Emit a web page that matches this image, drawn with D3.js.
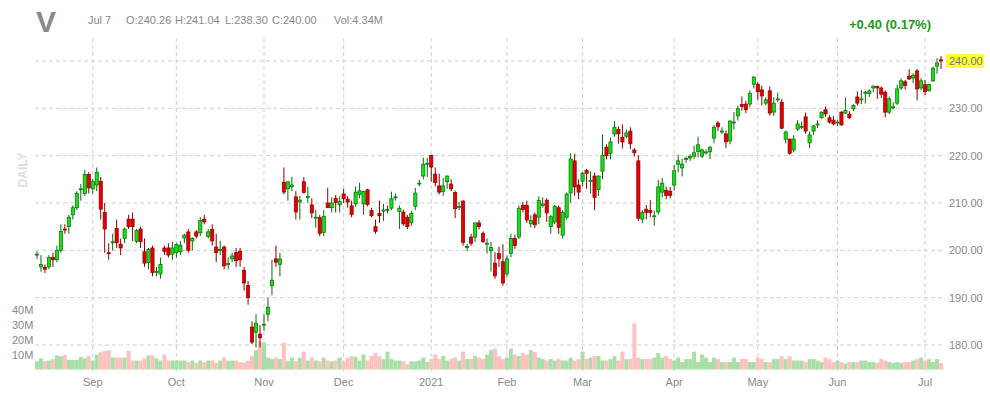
<!DOCTYPE html>
<html>
<head>
<meta charset="utf-8">
<script src="https://cdn.jsdelivr.net/npm/d3@7"></script>
<style>
  body { margin: 0; background: #fff; font-family: Arial, "Liberation Sans", sans-serif; }
</style>
</head>
<body>
<div id="chart"></div>
<script>
// daily candles, [open, high, low, close], Aug 11 2020 .. Jul 7 2021
const candles = [
  // Aug
  [199,199.8,198.2,199.2],[196.5,199,195.5,197],[196.4,197,195.2,196],[196.5,199,196,198.5],[198.5,199.5,196.5,198],
  [198,201,197.5,200],[200,205.5,199.5,204],[204.5,205.5,203.5,204.3],[205,207.5,203.5,207],[207.5,209.5,206.5,209],
  [209,212.5,208.5,212],[213,214,210.5,213],[212,217,211.5,216],[216,216.5,212,213.2],[213,215,212,214.5],
  // Sep
  [213.8,217.5,212.5,216.5],[214.6,215.5,206.5,208.7],[208,210,199.5,204.5],[199.5,201.5,198,199.3],[201.8,203.5,200,201.8],
  [204.6,206.5,200.5,201.6],[201.3,202.5,199,200.5],[202.5,204.8,201.5,204.5],[206.6,207.5,204.5,205],[206.6,208,202,205],
  [201.9,204.5,201.5,204.2],[204.5,205,200.5,201.8],[199.7,202.5,196.5,197.3],[197.4,200.5,196,200.2],[200.5,201,194.5,195.3],
  [195.5,196.5,194.5,195.5],[195,198.5,194,197],[200.5,201,199,199.8],[200.5,201.5,198.5,199],[199.2,201.8,198,200.5],
  [199.5,201.5,198.5,201.2],
  // Oct
  [199.7,202,199,201.1],[202.6,203.5,201.5,203.2],[203.9,204.5,199.5,200],[202,202.8,200,202.5],[203.9,204.3,202.5,203],
  [203.7,207,203,206.3],[206.6,207.5,205.5,206],[202.9,204.5,202.5,203.9],[204.4,205.5,201,202],[200.7,203.5,197.5,199.5],
  [200,202,199,200.2],[200.7,201,196,196.7],[197.2,198.5,196,197.2],[198.2,199.5,197.5,198.8],[199.5,200.5,196.5,197.8],
  [199.8,200.5,196.5,198],[195.8,196.5,191.5,193.1],[192.6,193.5,188.5,190],[183.8,185,180.2,180.6],[182.7,186.5,179.5,184.6],
  [182.3,184.2,179.5,181.5],[184.4,186.5,183,184.4],
  // Nov
  [186.5,190,185,188],[192.5,198,190.5,193.7],[198.2,201,196.5,197.5],[197,199.5,194.5,198.2],[214.4,217.5,211.8,212.3],
  [213,214,210.5,214.5],[213.5,215.5,212.5,213.8],[211.3,212.5,206.5,208.1],[210.2,211.5,206.5,210.6],[214.5,215.5,212,212.2],
  [211.4,213.5,210,211.4],[209.6,211,206.8,207.9],[207,208.6,204.8,207],[206.9,207.5,203,203.6],[203.8,208.5,203,207.2],
  [210,213.2,209,209],[209,211.2,208,210],[211,211.7,208,210.1],[209.6,211.4,208,210.3],[211.9,213,210,210.9],
  // Dec
  [210.8,211.5,209,210.2],[209.4,210.5,207,207.6],[209.8,213.5,209.2,212.3],[211.8,214.3,211,212.6],[209.8,212.6,207.5,212.4],
  [212.8,213,209.3,209.7],[208.4,209,207,207.3],[205,206.5,203.5,204],[207.8,210.5,205.8,207.3],[208.5,209.8,206.2,208.5],
  [208.6,209.5,207.8,208.6],[208.9,212.4,208.5,210.9],[211.3,212,210.5,211.3],[208.2,209.5,204.5,208.9],[208.1,208.6,205.2,205.6],
  [207,207.5,204.5,205],[205.8,208.3,205.2,207.8],[209.3,213.2,208.5,212.1],[214.2,214.9,213.5,214.2],[215.7,219.6,215,218.2],
  [218.4,219.5,215.5,218.4],[220.1,220.1,214.5,217.6],
  // Jan
  [216.1,217.5,213.5,214.3],[213.6,216.2,211.8,212.3],[212.4,215.3,211.5,213.6],[214.5,215.8,213,215.7],[214,215,212.5,213],
  [212.2,212.6,206.8,208.8],[209.3,210.2,208.5,209.3],[210.4,210.6,201,201.7],[200.8,201.4,199.8,200.8],[202.8,203.5,201,201.5],
  [202.8,205.6,201.8,205.8],[205.8,206.4,204.4,205],[203.6,204,201.6,201.8],[201.5,202.5,199.3,201.5],[199.9,201.8,195.5,200.6],
  [197.3,199.6,194,194.6],[199.3,200.8,196.5,198.2],[197.6,201.3,192.5,193.1],[195,198.9,194.4,198.2],
  // Feb
  [199.3,203.5,198.5,202.5],[202.5,203.3,200.3,201],[202.8,209.5,202.4,208.9],[209.5,210.2,208,208.6],[209.5,210.5,205.8,206.4],
  [205.6,207.4,204.8,206.3],[207.5,208,204.7,205.4],[207,211.4,205.5,210.5],[209.5,211.2,209,209.8],[210.6,211,206,207.9],
  [205,207.5,203.5,207.1],[206,209.6,205.5,209.3],[209,209.5,203.5,204.8],[203.2,208.5,202.5,208],[207,212.2,206.5,211.9],
  [212.1,220.5,210,219.3],[218.9,220.4,211.5,213.4],[213.8,215,210.8,212.3],[214.6,216.5,213.5,216.3],
  // Mar
  [216.9,217.2,213,216.3],[214.8,216.7,212,214.8],[215.7,216.4,208.5,211.2],[212.8,215.8,211.5,215.7],[216.7,224.5,215,220.1],
  [221.8,222.4,219.2,220],[220.5,223.8,219.2,222.9],[224.6,227.3,224,226],[225.5,226.2,222.5,224.6],[223.9,226.6,221.5,222.9],
  [224.1,225.5,223.7,224.8],[225.2,226,221.4,222.5],[221.2,221.6,219.8,220.6],[218.9,220.1,206.2,206.8],[206.6,208.5,205.7,208],
  [208.7,209.6,206.5,208],[208.4,210.6,207,208],[207.3,208.4,205.2,207.3],[208.1,214.9,207.5,213.4],[212.3,215.3,211.2,214.2],
  [212.7,213.5,210.8,211.6],[212.5,213.4,211,211.6],[213.8,218,212.6,216.8],
  // Apr
  [218.2,220.2,216.5,218.9],[217.4,219.3,215.6,218.2],[219.4,219.8,218.5,219.4],[219.5,220.3,218.9,219.8],[219.9,222.1,219.3,220.6],
  [220.9,224,219.6,222.3],[219.9,221.5,219.5,221.2],[220.8,221.3,220.2,220.8],[220.8,222,219.3,221.8],[223.7,226.5,222.6,226],
  [226.9,227.3,225.2,226.1],[225.2,226,224.6,225.2],[224.6,225.3,221.6,222.9],[223.1,227.5,222.4,227.3],[227.1,229.2,225.5,227.1],
  [228.4,230.6,227.4,229.9],[230.8,232.5,229.5,230.4],[230.9,231.6,229,229.7],[230.9,233.8,230.2,233.2],[235.1,236.8,234.2,236.6],
  [235.1,235.5,231.7,233.5],
  // May
  [233.9,234.8,230.6,232.6],[231.1,232.3,230.6,231.8],[233.7,234.6,228.5,229],[229.2,232.3,228.4,231.1],[232,233.3,231.3,232],
  [231.3,232,225.6,225.8],[223.5,225.3,222.6,225],[223.5,223.6,220.2,220.5],[221.2,224.3,220.7,223.5],[225.6,227.5,225.2,226.7],
  [226.2,227.2,225.6,226.2],[228.2,229.1,224.6,225.2],[222.7,225.1,221.6,224.4],[225.2,226.5,224.4,226.3],[226.7,227.5,225.8,226.7],
  [228,229.3,227.8,229.2],[229.7,230.4,228.2,228.8],[228,228.6,226.8,227.1],[227.5,228.4,226.4,226.7],[227.1,227.6,226.3,227.1],
  // Jun
  [229.2,229.4,226.3,226.5],[229,232.3,228.8,229.6],[228.8,229.4,227.7,228],[229.9,230.9,229.4,230.6],[232.4,233.6,230.6,231.1],
  [232,233.9,230.9,232],[233.4,233.7,231,233.4],[233.1,234,232.4,233.7],[234.3,234.8,233.4,234.7],[234.6,234.8,232,234.3],
  [234.3,234.6,232.2,233],[233.4,233.8,228.1,229.2],[229.2,232.5,228.8,232],[230.3,231.3,229.8,230.3],[231.1,235,230.7,234.1],
  [234.3,236.3,233.9,235.8],[235.6,236,234,234.8],[236.8,238.3,236,236.2],[236.4,237.4,235.3,237],[237.9,238.3,231.7,234.1],
  [234.3,236.4,233.8,235.8],[235,236,232.8,233.5],
  // Jul
  [233.8,235.1,233.5,235],[235.8,238.8,235.6,238.5],[238.9,240.6,237.3,239.6],[240.26,241.04,238.3,240]
];

// volume, millions
const volumes = [
  5.5,7.5,5.5,6,7,9.5,9,10,6.5,6.5,6.5,8.5,7.5,9,6,
  10,11.5,12.5,13,8,8,8,8,12.5,6,6,6,7.5,9.5,9.5,7.5,6,10,6,6,6,
  6,6,5,6,4.5,6,5,6,6,4.5,6,8,6,6,6,5,4.5,6,9,13,19,18,
  8,7,8,7,18,5.5,8,5.5,8,12,6,8,6,5.5,8,6,5.5,6,8,5.5,
  8,9,8.5,6,10,6,9,11,9,7,12,7,6,6,5.5,3.5,5.5,5.5,6,8,5,7,
  10,7,9,6,7,8,6,12,7,7,9,8,7,10,13,14,9,7,8,
  14,10,9,11,10,13,12,8,7,6,7,6,7,6,6,8,6,7,12,
  7,8,9,9,6,6,7,9,6,12,7,7,31,8,7,7,7,8,11,8,9,7,6,
  8,5,7,7,12,5,10,8,5,8,7,5,5,5,8,5,7,7,5,5,8,
  7,5,5,7,7,9,7,9,6,6,6,5,7,7,6,5,8,7,5,6,
  5,4,5,5,5,6,6,5,5,4.5,7,6,5,4.5,5,4.5,5,5,6,7,8,6,
  7,5,7,4.34
];

const holidays = ['2020-09-07','2020-11-26','2020-12-25','2021-01-01','2021-01-18','2021-02-15','2021-04-02','2021-05-31'];
const priceTicks = [180, 190, 200, 210, 220, 230, 240];
const volTicks = [10, 20, 30, 40];
const monthNames = ['Jan','Feb','Mar','Apr','May','Jun','Jul','Aug','Sep','Oct','Nov','Dec'];

// trading calendar, counted back from the last bar
const fmt = d3.timeFormat('%Y-%m-%d');
const allDays = d3.timeDay.range(new Date(2020, 7, 1), new Date(2021, 6, 8))
  .filter(d => d.getDay() % 6 !== 0 && !holidays.includes(fmt(d)));
const dates = allDays.slice(allDays.length - candles.length);

const width = 990, height = 400;
const svg = d3.select('#chart').append('svg').attr('width', width).attr('height', height);

const x = d3.scaleLinear().domain([0, candles.length - 1]).range([37, 941]);
const y = d3.scaleLinear().domain([180, 240]).range([345, 61]);
const yv = d3.scaleLinear().domain([0, 40]).range([369.5, 310]);

// horizontal grid
svg.append('g').selectAll('line').data(priceTicks).join('line')
  .attr('x1', 35).attr('x2', 945).attr('y1', d => y(d)).attr('y2', d => y(d))
  .attr('stroke', '#d0d0d0').attr('stroke-dasharray', '4,3');

// month ticks: first trading day of each month
const monthIdx = [];
dates.forEach((d, i) => { if (i > 0 && d.getMonth() !== dates[i - 1].getMonth()) monthIdx.push(i); });
svg.append('g').selectAll('line').data(monthIdx).join('line')
  .attr('x1', d => x(d)).attr('x2', d => x(d)).attr('y1', 38).attr('y2', 372)
  .attr('stroke', '#d0d0d0').attr('stroke-dasharray', '4,3');
svg.append('g').selectAll('text').data(monthIdx).join('text')
  .attr('x', d => x(d)).attr('y', 386).attr('text-anchor', 'middle')
  .attr('font-size', 11).attr('fill', '#888')
  .text(d => dates[d].getMonth() === 0 ? dates[d].getFullYear() : monthNames[dates[d].getMonth()]);

// volume bars
const bw = x(1) - x(0);
svg.append('g').selectAll('rect').data(volumes).join('rect')
  .attr('x', (d, i) => x(i) - bw / 2).attr('width', bw)
  .attr('y', d => yv(d)).attr('height', d => yv(0) - yv(d))
  .attr('fill', (d, i) => candles[i] && candles[i][3] >= candles[i][0] ? '#a9dfa6' : '#ffc0c0');
svg.append('g').selectAll('text').data(volTicks).join('text')
  .attr('x', 12).attr('y', d => yv(d) + 4).attr('font-size', 11).attr('fill', '#888')
  .text(d => d + 'M');

// candles
const cg = svg.append('g').selectAll('g').data(candles).join('g');
cg.append('line')
  .attr('x1', (d, i) => x(i)).attr('x2', (d, i) => x(i))
  .attr('y1', d => y(d[1])).attr('y2', d => y(d[2]))
  .attr('stroke', d => d[3] >= d[0] ? '#0a6b0a' : '#8b0000');
cg.append('rect')
  .attr('x', (d, i) => x(i) - 1.6).attr('width', 3.2)
  .attr('y', d => y(Math.max(d[0], d[3])))
  .attr('height', d => Math.max(1, Math.abs(y(d[0]) - y(d[3]))))
  .attr('fill', d => d[3] >= d[0] ? '#16e016' : '#e60000')
  .attr('stroke', d => d[3] >= d[0] ? '#0a6b0a' : '#8b0000').attr('stroke-width', 0.7);

// price labels
svg.append('g').selectAll('text').data(priceTicks.filter(d => d < 240)).join('text')
  .attr('x', 949).attr('y', d => y(d) + 4).attr('font-size', 11).attr('fill', '#888')
  .text(d => d.toFixed(2));
const last = candles[candles.length - 1];
svg.append('rect').attr('x', 946).attr('y', y(last[3]) - 7).attr('width', 38).attr('height', 14).attr('fill', '#ffff33');
svg.append('text').attr('x', 949).attr('y', y(last[3]) + 4).attr('font-size', 11).attr('fill', '#777')
  .text(last[3].toFixed(2));

// header
svg.append('text').attr('x', 36).attr('y', 32).attr('font-size', 30).attr('font-weight', 'bold').attr('fill', '#888').text('V');
const hdr = [[88, 'Jul 7'], [126, 'O:' + last[0].toFixed(2)], [175, 'H:' + last[1].toFixed(2)],
  [225, 'L:' + last[2].toFixed(2)], [272, 'C:' + last[3].toFixed(2)], [334, 'Vol:4.34M']];
svg.append('g').selectAll('text').data(hdr).join('text')
  .attr('x', d => d[0]).attr('y', 24).attr('font-size', 11).attr('fill', '#888').text(d => d[1]);
const prev = candles[candles.length - 2][3];
const chg = last[3] - prev;
svg.append('text').attr('x', 931).attr('y', 29).attr('text-anchor', 'end')
  .attr('font-size', 13).attr('font-weight', 'bold').attr('fill', '#1a9a1a')
  .text('+' + chg.toFixed(2) + ' (' + (chg / prev * 100).toFixed(2) + '%)');

svg.append('text').attr('transform', 'translate(27,170) rotate(-90)').attr('text-anchor', 'middle')
  .attr('font-size', 12).attr('font-weight', 'bold').attr('fill', '#ddd').text('DAILY');
</script>
</body>
</html>
